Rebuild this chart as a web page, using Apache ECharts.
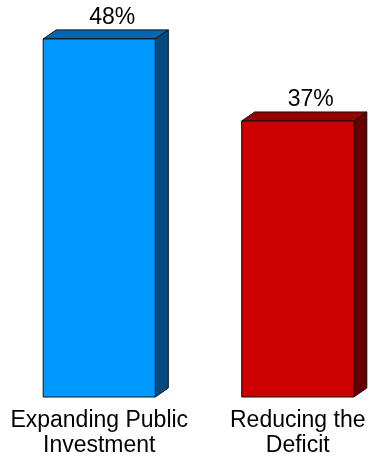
<!DOCTYPE html>
<html><head><meta charset="utf-8">
<script src="https://cdn.jsdelivr.net/npm/echarts@6/dist/echarts.min.js"></script>
<style>html,body{margin:0;padding:0;background:#fff}#c{width:375px;height:460px}</style>
</head><body><div id="c"></div>
<script>
const categories = ['Expanding Public\nInvestment', 'Reducing the\nDeficit'];
const values = [48, 37];
const valueLabels = ['48%', '37%'];
const frontColors = ['#0099FF', '#CC0000'];
const topColors = ['#0066B3', '#990000'];
const sideColors = ['#004A80', '#660000'];

const chart = echarts.init(document.getElementById('c'), null, {renderer: 'canvas'});
const DX = 13, DY = -9;
chart.setOption({
  animation: false,
  grid: {left: 0, width: 397, top: 24, bottom: 63, outerBoundsMode: 'none', containLabel: false},
  xAxis: {
    type: 'category', data: categories,
    axisLine: {show: false}, axisTick: {show: false},
    axisLabel: {color: '#000', fontFamily: 'Liberation Sans', fontSize: 23, lineHeight: 25, margin: 11, interval: 0}
  },
  yAxis: {type: 'value', min: 0, max: 50, show: false},
  series: [{
    type: 'custom',
    data: values.map((v, i) => [i, v]),
    renderItem: function (params, api) {
      const i = api.value(0);
      const v = api.value(1);
      const top = api.coord([i, v]);
      const base = api.coord([i, 0]);
      const w = api.size([1, 0])[0] * 0.565;
      const x0 = top[0] - w / 2, x1 = top[0] + w / 2;
      const y0 = top[1], y1 = base[1];
      const edge = {stroke: '#111', lineWidth: 1, lineJoin: 'round'};
      return {
        type: 'group',
        children: [
          {type: 'polygon', shape: {points: [[x0, y0], [x0 + DX, y0 + DY], [x1 + DX, y0 + DY], [x1, y0]]},
            style: Object.assign({fill: topColors[i]}, edge)},
          {type: 'polygon', shape: {points: [[x1, y0], [x1 + DX, y0 + DY], [x1 + DX, y1 + DY], [x1, y1]]},
            style: Object.assign({fill: sideColors[i]}, edge)},
          {type: 'rect', shape: {x: x0, y: y0, width: w, height: y1 - y0},
            style: Object.assign({fill: frontColors[i]}, edge)},
          {type: 'text', x: top[0] + DX, y: y0 + DY - 1,
            style: {text: valueLabels[i], fill: '#000', fontFamily: 'Liberation Sans', fontSize: 23,
              align: 'center', verticalAlign: 'bottom'}}
        ]
      };
    }
  }]
});
</script></body></html>
